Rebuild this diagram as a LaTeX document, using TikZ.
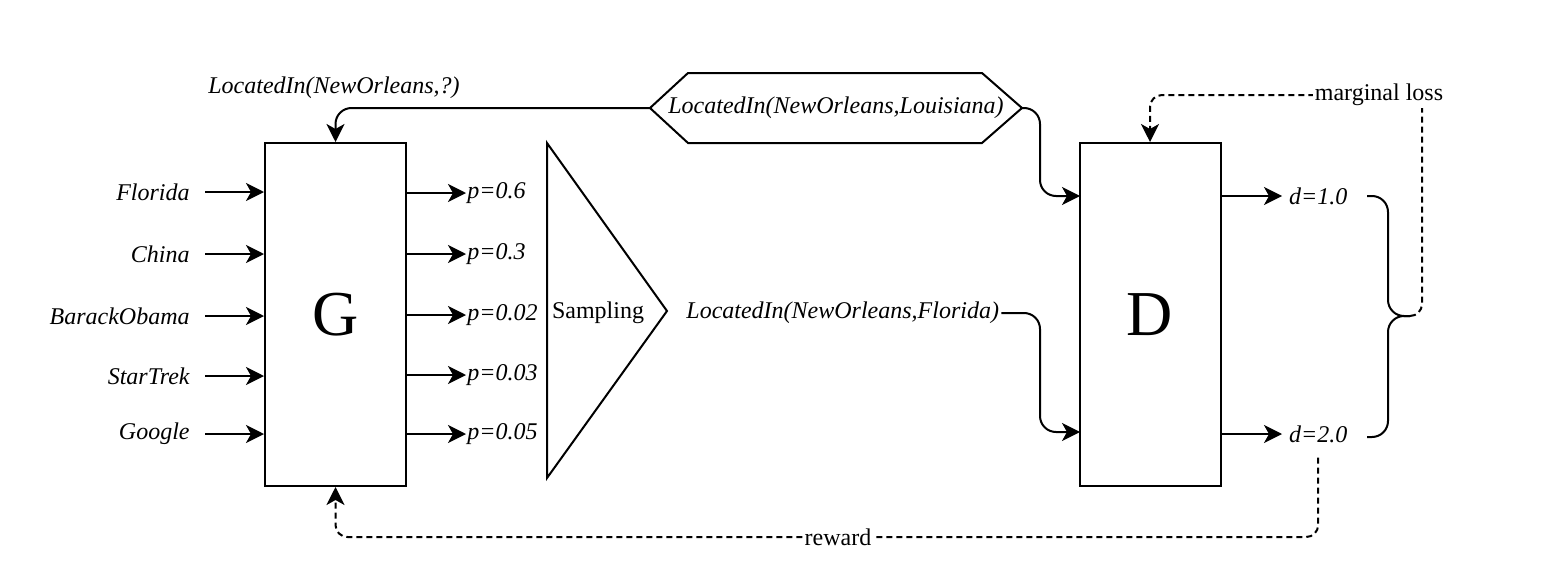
\documentclass[tikz,border=0pt]{standalone}
\usepackage{fontspec}
\setmainfont{Liberation Serif}
\usetikzlibrary{arrows.meta,positioning}

\begin{document}
\begin{tikzpicture}[x=0.5pt,y=-0.5pt,
  every node/.style={font=\fontsize{12}{14}\selectfont},
  flow/.style={-{Stealth[length=9pt,width=9pt,inset=2.5pt]},line width=1pt},
  fb/.style={flow,dash pattern=on 3pt off 2pt,rounded corners=6pt},
  blk/.style={draw,line width=1pt,minimum width=70.5pt,minimum height=171.5pt,inner sep=0pt,font=\fontsize{32}{36}\selectfont},
  it/.style={font=\fontsize{12}{14}\selectfont\itshape}]
  \useasboundingbox (0,0) rectangle (1542,578);
  % generator and discriminator
  \node[blk] (G) at (335.5,314.5) {G};
  \node[blk] (D) at (1150,314.5) {D};
  \foreach \n/\y/\lab in {1/192/Florida,2/254/China,3/316/BarackObama,4/376/StarTrek,5/434/Google} {
    \node[it,anchor=east,inner xsep=7.5pt] (in\n) at (205,\y) {\lab};
    \draw[flow] (in\n.east) -- (in\n.east -| G.west);
  }
  \foreach \n/\y/\lab in {1/193/0.6,2/254/0.3,3/315/0.02,4/375/0.03,5/434/0.05} {
    \node[it,anchor=west,inner xsep=0.5pt] (p\n) at (466,\y) {p=\lab};
    \draw[flow] (p\n.west -| G.east) -- (p\n.west);
  }
  % sampling
  \draw[line width=1pt] (547,143) -- (547,478) -- (667,311) -- cycle;
  \node (samp) at (598,313) {Sampling};
  \node[it,anchor=west,inner xsep=1pt] (fl) at (684,313) {LocatedIn(NewOrleans,Florida)};
  % true triple
  \node[it] (hex) at (836,108) {LocatedIn(NewOrleans,Louisiana)};
  \draw[line width=1pt] (650,108) coordinate (hexW) -- (688,73) -- (982,73) -- (1022,108) coordinate (hexE)
    -- (982,143) -- (688,143) -- cycle;
  \node[it] (q) at (334,88) {LocatedIn(NewOrleans,?)};
  \draw[flow,rounded corners=8pt] (hexW) -| (G.north);
  \coordinate (Din1) at (1080,196);
  \coordinate (Din2) at (1080,432);
  \coordinate (elb) at (1040,0);
  \draw[flow,rounded corners=8pt] (hexE) -- (hexE -| elb) |- (Din1);
  \draw[flow,rounded corners=8pt] (fl.east) -- (fl.east -| elb) |- (Din2);
  % scores
  \node[it,anchor=west] (d1) at (1282,196) {d=1.0};
  \node[it,anchor=west] (d2) at (1282,434) {d=2.0};
  \draw[flow] (d1.west -| D.east) -- (d1.west);
  \draw[flow] (d2.west -| D.east) -- (d2.west);
  \coordinate (brt) at (1410,316);
  \draw[line width=1pt,rounded corners=8pt] (1367,196) -| (1388,316) -- (brt);
  \draw[line width=1pt,rounded corners=8pt] (1367,437) -| (1388,316) -- (brt);
  % feedback
  \draw[fb] (brt) -| (1422,95) -| (D.north);
  \node[fill=white,inner sep=1pt] (ml) at (1379,95) {marginal loss};
  \draw[fb] ([yshift=-4pt]d2.south) -- (d2.south |- 0,537) -| (G.south);
  \node[fill=white,inner sep=1pt] (rw) at (838,537) {reward};
\end{tikzpicture}
\end{document}
